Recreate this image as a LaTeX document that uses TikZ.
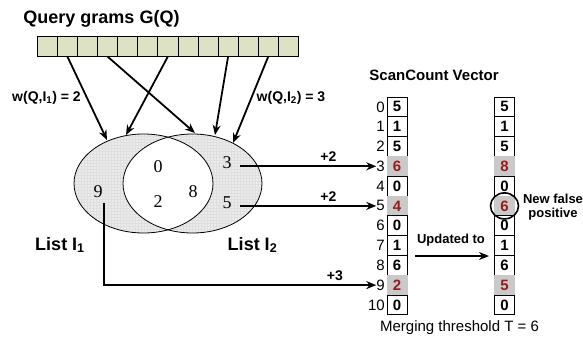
\documentclass[tikz,border=0pt]{standalone}
\usepackage{fontspec}
\setmainfont{Liberation Sans}
\newfontfamily\serifnum{Liberation Serif}
\usetikzlibrary{arrows.meta,patterns}
\definecolor{gramfill}{HTML}{DDE2C4}
\definecolor{hitgray}{HTML}{C9C9C9}
\definecolor{hitred}{HTML}{991B1B}
\definecolor{venngray}{HTML}{EBEBEB}
\tikzset{
  gram/.style={draw=black, line width=0.6pt, fill=gramfill, minimum width=20.08pt, minimum height=20pt, inner sep=0pt, anchor=north west},
  cell/.style={draw=black, line width=0.8pt, fill=white, minimum width=20pt, minimum height=19.8pt, inner sep=0pt, font=\bfseries\fontsize{15}{15}\selectfont},
  hit/.style={cell, draw=hitgray, fill=hitgray, text=hitred},
  idx/.style={anchor=east, inner sep=0pt, font=\fontsize{15}{15}\selectfont},
  vnum/.style={inner sep=1pt, font=\serifnum\fontsize{18}{18}\selectfont},
  arr/.style={line width=1.8pt, -{Stealth[length=10pt,width=8pt]}},
  lbl/.style={font=\bfseries\fontsize{13}{13}\selectfont, inner sep=0pt},
  wlbl/.style={font=\bfseries\fontsize{14}{14}\selectfont, inner sep=0pt},
}
\begin{document}
\begin{tikzpicture}[x=1pt,y=-1pt]
\useasboundingbox (0,0) rectangle (583,343);

% title and the row of query grams
\node[font=\bfseries\fontsize{18}{18}\selectfont, inner sep=0pt] (title) at (101.5,19) {Query grams G(Q)};
\foreach \i in {1,...,13} {
  \node[gram] (q\i) at ({37+20.08*(\i-1)},36) {};
}

% the two lists as a Venn diagram
\coordinate (c1) at (143.5,183.5);
\coordinate (c2) at (192.5,183.5);
\fill[venngray] (c1) ellipse [x radius=69.5, y radius=49.5];
\fill[venngray] (c2) ellipse [x radius=69.5, y radius=49.5];
\fill[pattern=grid, pattern color=gray!25] (c1) ellipse [x radius=69.5, y radius=49.5];
\fill[pattern=grid, pattern color=gray!25] (c2) ellipse [x radius=69.5, y radius=49.5];
\begin{scope}
  \clip (c1) ellipse [x radius=69.5, y radius=49.5];
  \fill[white] (c2) ellipse [x radius=69.5, y radius=49.5];
\end{scope}
\draw[line width=0.8pt] (c1) ellipse [x radius=69.5, y radius=49.5];
\draw[line width=0.8pt] (c2) ellipse [x radius=69.5, y radius=49.5];

\node[vnum] (n0) at (158,167) {0};
\node[vnum] (n2) at (158,202) {2};
\node[vnum] (n8) at (193,192) {8};
\node[vnum] (n9) at (98,192) {9};
\node[vnum] (n3) at (227,163) {3};
\node[vnum] (n5) at (227,203) {5};

\node[font=\bfseries\fontsize{18}{18}\selectfont, inner sep=0pt] (l1) at (60,245) {List I\textsubscript{1}};
\node[font=\bfseries\fontsize{18}{18}\selectfont, inner sep=0pt] (l2) at (252.5,245) {List I\textsubscript{2}};

% arrow ends on the ellipse borders
\coordinate (e1) at (107,140);
\coordinate (e2) at (126,135);
\coordinate (e3) at (195,133);
\coordinate (e4) at (215,135);
\coordinate (e5) at (233,143);
\draw[arr] (q2.south) -- (e1);
\draw[arr] (q4.south) -- (e3);
\draw[arr] (q7.south) -- (e2);
\draw[arr] (q10.south) -- (e4);
\draw[arr] (q12.south) -- (e5);

\node[wlbl] (w1) at (46.5,98) {w(Q,I\textsubscript{1}) = 2};
\node[wlbl] (w2) at (291,98) {w(Q,I\textsubscript{2}) = 3};

% ScanCount vectors
\node[font=\bfseries\fontsize{15}{15}\selectfont, inner sep=0pt] (sc) at (434,75) {ScanCount Vector};
\foreach \k in {0,...,10} {
  \node[idx] (i\k) at (385,{106.9+19.8*\k}) {\k};
}
% first vector
\foreach \v/\s [count=\k from 0] in {5/cell,1/cell,5/cell,6/hit,0/cell,4/hit,0/cell,1/cell,6/cell,2/hit,0/cell} {
  \node[\s] (a\k) at (397,{106.9+19.8*\k}) {\v};
}
% updated vector
\foreach \v/\s [count=\k from 0] in {5/cell,1/cell,5/cell,8/hit,0/cell,6/hit,0/cell,1/cell,6/cell,5/hit,0/cell} {
  \node[\s] (b\k) at (504.5,{106.9+19.8*\k}) {\v};
}

% list entries added to the counters
\draw[arr] ([xshift=7pt]n3.east |- i3) -- (i3.west) node[wlbl, pos=0.65, above=4pt] {+2};
\draw[arr] ([xshift=7pt]n5.east |- i5) -- (i5.west) node[wlbl, pos=0.65, above=4pt] {+2};
\draw[arr] (n9.south) ++(6,4) |- (i9.west) node[wlbl, pos=0.924, above=4pt] {+3};

% update step
\node[lbl] (upd) at (451,240) {Updated to};
\coordinate (u1) at (415,256);
\coordinate (u2) at (489,256);
\draw[arr] (u1) -- (u2);

\draw[line width=1.6pt] (b5) ellipse [x radius=14, y radius=13];
\node[lbl, align=center] (nfp) at (553,207) {New false\\[1pt]positive};

\node[font=\fontsize{15}{15}\selectfont, inner sep=0pt] (thr) at (459.5,328) {Merging threshold T = 6};
\end{tikzpicture}
\end{document}
